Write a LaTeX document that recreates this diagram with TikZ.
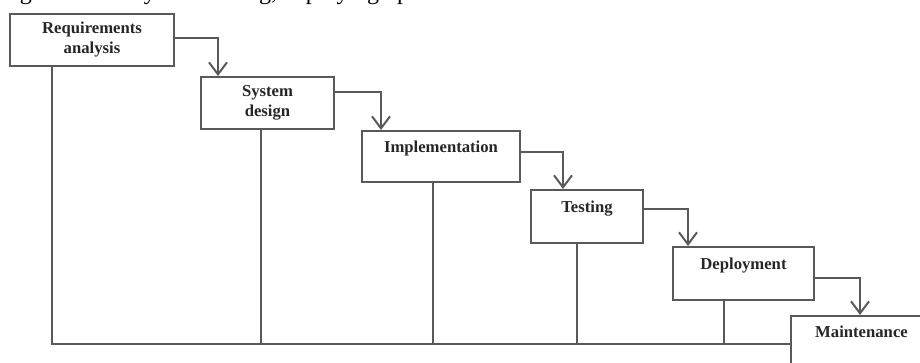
\documentclass[tikz,border=0pt]{standalone}
\usepackage{fontspec}
\setmainfont{Liberation Serif}
\usetikzlibrary{arrows.meta,calc,positioning}

\begin{document}
\begin{tikzpicture}[x=0.75pt,y=-0.75pt,
    stage/.style={draw=black!65,line width=1.5pt,align=center,inner sep=0pt,
      font=\fontsize{12.5pt}{15pt}\selectfont\bfseries,text=black!85},
    flow/.style={draw=black!65,line width=1.5pt,-{Straight Barb[length=9pt,width=13.5pt]}},
    link/.style={draw=black!65,line width=1.5pt}]
    \useasboundingbox (0,0) rectangle (920,362);
    \clip (0,0) rectangle (920,362);

    \node[anchor=base east,inner sep=0pt,font=\fontsize{18pt}{22pt}\selectfont] (intro) at (650,-1)
      {integration and system testing, deploying operation and maintenance.};

    \node[stage,minimum width=123pt,minimum height=39pt] (req) at (92,40) {Requirements\\analysis};
    \node[stage,minimum width=99.75pt,minimum height=39pt] (des) at (267.5,103) {System\\design};
    \node[stage,minimum width=118.5pt,minimum height=38.25pt] (imp) at (441,156.5) {Implementation\\\mbox{}};
    \node[stage,minimum width=84pt,minimum height=39.75pt] (tst) at (587,216.5) {Testing\\\mbox{}};
    \node[stage,minimum width=105.75pt,minimum height=39.75pt] (dep) at (743.5,273.5) {Deployment\\\mbox{}};
    \node[stage,minimum width=105.75pt,minimum height=39pt] (mnt) at (861.5,342) {Maintenance\\\mbox{}};
    \coordinate (base) at ($(mnt.north west)+(0,29)$);

    \begin{scope}
      \draw[flow] ($(req.north east)+(0,25)$) -| ($(des.north west)+(18,0)$);
      \draw[flow] ($(des.north east)+(0,16)$) -| ($(imp.north west)+(20,0)$);
      \draw[flow] ($(imp.north east)+(0,22)$) -| ($(tst.north west)+(33,0)$);
      \draw[flow] ($(tst.north east)+(0,20)$) -| ($(dep.north west)+(16,0)$);
      \draw[flow] ($(dep.north east)+(0,32)$) -| ($(mnt.north west)+(70,0)$);

      \draw[link] ($(req.south west)+(43,0)$) |- (base);
      \draw[link] ($(des.south west)+(61,0)$) |- (base);
      \draw[link] ($(imp.south west)+(72,0)$) |- (base);
      \draw[link] ($(tst.south west)+(47,0)$) |- (base);
      \draw[link] ($(dep.south west)+(52,0)$) |- (base);
    \end{scope}
  \end{tikzpicture}
\end{document}
